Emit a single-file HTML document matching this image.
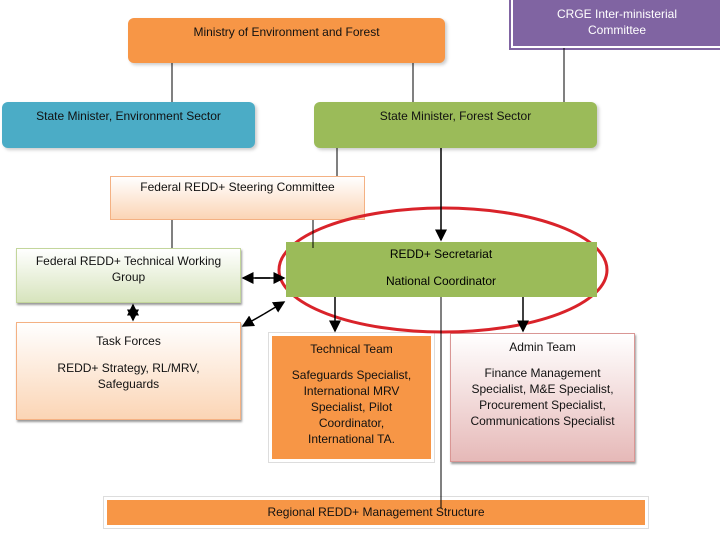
<!DOCTYPE html>
<html><head><style>
body{margin:0;width:720px;height:540px;background:#fff;position:relative;overflow:hidden;font-family:"Liberation Sans",sans-serif;font-size:12px;color:#111}
.b{position:absolute;box-sizing:border-box;text-align:center;line-height:16px}
</style></head><body>
<div class="b" style="left:128px;top:18px;width:317px;height:45px;background:#f79646;border-radius:6px;padding-top:6px;box-shadow:2px 2px 3px #ccc">Ministry of Environment and Forest</div>
<div class="b" style="left:511px;top:-2px;width:212px;height:50px;background:#8064a2;border:2px solid #fff;outline:2px solid #8064a2;padding-top:6px;color:#fff">CRGE Inter-ministerial<br>Committee</div>
<div class="b" style="left:2px;top:102px;width:253px;height:46px;background:#4bacc6;border-radius:6px;padding-top:6px;box-shadow:2px 2px 3px #ccc">State Minister, Environment Sector</div>
<div class="b" style="left:314px;top:102px;width:283px;height:46px;background:#9bbb59;border-radius:6px;padding-top:6px;box-shadow:2px 2px 3px #ccc">State Minister, Forest Sector</div>
<div class="b" style="left:110px;top:176px;width:255px;height:44px;background:linear-gradient(#fff,#fbd5b5);border:1px solid #f4b183;padding-top:2px">Federal REDD+ Steering Committee</div>
<div class="b" style="left:16px;top:248px;width:225px;height:55px;background:linear-gradient(#fff,#d7e4bd);border:1px solid #c3d69b;padding-top:4px;box-shadow:1px 2px 2px #999">Federal REDD+ Technical Working<br>Group</div>
<div class="b" style="left:286px;top:242px;width:311px;height:55px;background:#9bbb59;padding-top:4px">REDD+ Secretariat<br><div style="height:11px"></div>National Coordinator</div>
<div class="b" style="left:16px;top:322px;width:225px;height:98px;background:linear-gradient(#fff,#fbd5b5);border:1px solid #f4b183;padding-top:10px;box-shadow:1px 2px 2px #999">Task Forces<div style="height:11px"></div>REDD+ Strategy, RL/MRV,<br>Safeguards</div>
<div class="b" style="left:269px;top:333px;width:165px;height:129px;background:#f79646;border:3px solid #fff;outline:1px solid #ddd;padding-top:5px">Technical Team<div style="height:10px"></div>Safeguards Specialist,<br>International MRV<br>Specialist, Pilot<br>Coordinator,<br>International TA.</div>
<div class="b" style="left:450px;top:333px;width:185px;height:129px;background:linear-gradient(#fff,#e6b9b8);border:1px solid #d99694;padding-top:5px;box-shadow:1px 2px 2px #999">Admin Team<div style="height:10px"></div>Finance Management<br>Specialist, M&amp;E Specialist,<br>Procurement Specialist,<br>Communications Specialist</div>
<div class="b" style="left:104px;top:497px;width:544px;height:31px;background:#f79646;border:3px solid #fff;outline:1px solid #ddd;padding-top:4px">Regional REDD+ Management Structure</div>
<svg width="720" height="540" style="position:absolute;left:0;top:0" >
<defs><marker id="a" markerWidth="8" markerHeight="8" refX="7" refY="4" orient="auto"><path d="M0,0L8,4L0,8z" fill="#000"/></marker></defs>
<ellipse cx="443" cy="270" rx="164" ry="62" fill="none" stroke="#d9232a" stroke-width="3"/>
<rect x="286" y="242" width="311" height="55" fill="#9bbb59"/>
<rect x="269" y="333" width="165" height="50" fill="none"/>
<g stroke="#000" stroke-width="1" fill="none">
<line x1="172" y1="63" x2="172" y2="102"/><line x1="413" y1="63" x2="413" y2="102"/>
<line x1="564" y1="48" x2="564" y2="102"/><line x1="337" y1="148" x2="337" y2="176"/>
<line x1="172" y1="220" x2="172" y2="248"/><line x1="313" y1="220" x2="313" y2="248"/>
<line x1="441" y1="297" x2="441" y2="508"/>
<g stroke-width="1.5">
<line x1="441" y1="148" x2="441" y2="240" marker-end="url(#a)"/>
<line x1="335" y1="297" x2="335" y2="331" marker-end="url(#a)"/>
<line x1="523" y1="297" x2="523" y2="331" marker-end="url(#a)"/>
<line x1="255" y1="278" x2="284" y2="278" marker-end="url(#a)"/><line x1="270" y1="278" x2="243" y2="278" marker-end="url(#a)"/>
<line x1="133" y1="312" x2="133" y2="305" marker-end="url(#a)"/><line x1="133" y1="312" x2="133" y2="320" marker-end="url(#a)"/>
<line x1="264" y1="314" x2="284" y2="302" marker-end="url(#a)"/><line x1="264" y1="314" x2="243" y2="326" marker-end="url(#a)"/>
</g></g>
<text x="441" y="258" text-anchor="middle" font-family="Liberation Sans" font-size="12">REDD+ Secretariat</text>
<text x="441" y="285" text-anchor="middle" font-family="Liberation Sans" font-size="12">National Coordinator</text>
</svg>
</body></html>
